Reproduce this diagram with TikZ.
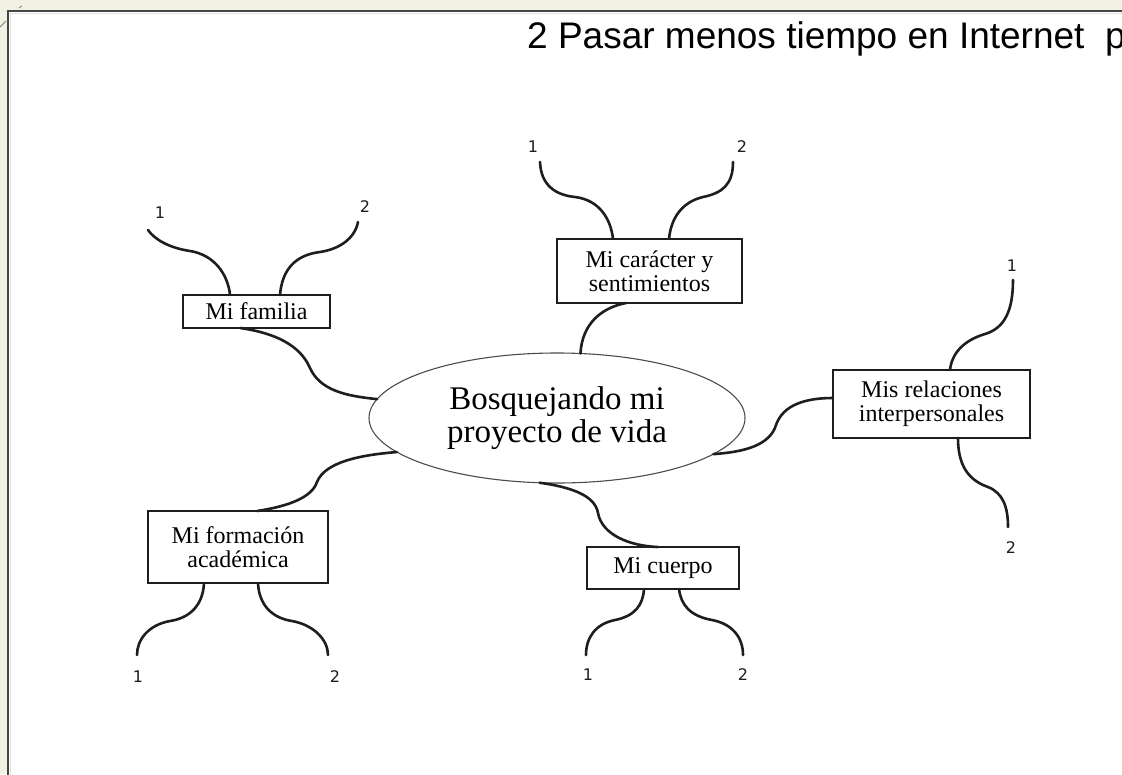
\documentclass[tikz,border=0pt]{standalone}
\usepackage{fontspec}
\setmainfont{Liberation Serif}
\newfontfamily\titlefont{Liberation Sans}
\newfontfamily\numfont{DejaVu Sans}
\usetikzlibrary{shapes.geometric}
\definecolor{beige}{HTML}{F1F2E4}
\definecolor{frame}{HTML}{454545}
\definecolor{ink}{HTML}{1E1E1E}
\begin{document}
\begin{tikzpicture}[x=1pt,y=-1pt,
  box/.style={draw=ink, line width=1.4pt, rectangle, inner sep=0pt, outer sep=0pt, align=center,
    font=\fontsize{24}{24}\selectfont},
  branch/.style={line width=2.6pt, draw=ink, line cap=round},
  num/.style={font=\numfont\fontsize{16}{16}\selectfont, inner sep=0pt, text=ink}
]
\useasboundingbox (0,0) rectangle (1122,774);
\clip (0,0) rectangle (1122,774);
\fill[beige] (0,0) rectangle (1122,774);
\fill[white] (8,11) rectangle (1130,780);
\draw[frame, line width=1.8pt] (8,780) -- (8,11) -- (1130,11);
\draw[black!12, line width=1pt] (10.5,780) -- (10.5,13.5) -- (1130,13.5);
\draw[gray, line width=0.8pt] (0,27) -- (6,21);
\draw[gray, line width=0.8pt] (19,8) -- (22,6);

% title
\node[anchor=base west, font=\titlefont\fontsize{37}{37}\selectfont, inner sep=0pt] (title) at (527,48)
  {2 Pasar menos tiempo en Internet\ \ p};

% centre
\node[ellipse, draw=black!70, line width=1.1pt, minimum width=376pt, minimum height=130pt,
  inner sep=0pt, outer sep=0pt, align=center, font=\fontsize{33}{33}\selectfont] (cen) at (557,418)
  {Bosquejando mi\\proyecto de vida};

% boxes
\node[box, minimum width=147pt, minimum height=33pt] (fam) at (256.5,311.5) {Mi familia};
\node[box, minimum width=185pt, minimum height=64pt] (car) at (649.5,271) {Mi carácter y\\sentimientos};
\node[box, minimum width=197pt, minimum height=68pt] (rel) at (931.5,404) {Mis relaciones\\interpersonales};
\node[box, minimum width=180pt, minimum height=72pt] (form) at (238,547) {Mi formación\\académica};
\node[box, minimum width=152pt, minimum height=42pt] (cu) at (663,568) {Mi cuerpo};

% free ends
\coordinate (f1) at (148,230);  \coordinate (f2) at (358,222);
\coordinate (c1) at (540,162);  \coordinate (c2) at (733,162);
\coordinate (r1) at (1013,280); \coordinate (r2) at (1008,527);
\coordinate (fo1) at (137,655); \coordinate (fo2) at (328,655);
\coordinate (cu1) at (586,655); \coordinate (cu2) at (743,655);

% number labels
\node[num] (lf1) at (160,213) {1};  \node[num] (lf2) at (365,207) {2};
\node[num] (lc1) at (533,147) {1};  \node[num] (lc2) at (742,147) {2};
\node[num] (lr1) at (1012,266) {1}; \node[num] (lr2) at (1011,548) {2};
\node[num] (lo1) at (138,677) {1};  \node[num] (lo2) at (335,677) {2};
\node[num] (lu1) at (588,675) {1};  \node[num] (lu2) at (743,675) {2};

% Mi familia
\draw[branch] ([xshift=-26.5pt]fam.north) .. controls (228,275) and (215,255) .. (190,251)
  .. controls (170,248) and (155,240) .. (f1);
\draw[branch] ([xshift=23.5pt]fam.north) .. controls (282,270) and (295,255) .. (320,252)
  .. controls (340,249) and (355,238) .. (f2);
\draw[branch] ([xshift=-16.5pt]fam.south) .. controls (275,333) and (300,345) .. (310,368)
  .. controls (320,390) and (345,396) .. (cen.174);

% Mi caracter
\draw[branch] ([xshift=-36.5pt]car.north) .. controls (611,220) and (600,200) .. (575,197)
  .. controls (555,195) and (541,185) .. (c1);
\draw[branch] ([xshift=19.5pt]car.north) .. controls (671,218) and (682,202) .. (703,197)
  .. controls (722,193) and (733,185) .. (c2);
\draw[branch] ([xshift=-23.5pt]car.south) .. controls (600,308) and (582,325) .. (cen.70);

% Mis relaciones
\draw[branch] ([xshift=18.5pt]rel.north) .. controls (952,352) and (965,340) .. (985,334)
  .. controls (1005,328) and (1013,310) .. (r1);
\draw[branch] ([xshift=26.5pt]rel.south) .. controls (958,465) and (968,480) .. (988,487)
  .. controls (1003,493) and (1008,507) .. (r2);
\draw[branch] (cen.-13) .. controls (745,452) and (770,445) .. (776,425)
  .. controls (783,405) and (805,398) .. ([yshift=6pt]rel.west);

% Mi formacion
\draw[branch] ([xshift=19pt]form.north) .. controls (290,506) and (312,497) .. (317,482)
  .. controls (325,462) and (360,455) .. (cen.192);
\draw[branch] ([xshift=-34pt]form.south) .. controls (203,605) and (190,618) .. (170,621)
  .. controls (148,625) and (137,640) .. (fo1);
\draw[branch] ([xshift=20pt]form.south) .. controls (259,605) and (272,618) .. (292,621)
  .. controls (314,625) and (328,640) .. (fo2);

% Mi cuerpo
\draw[branch] (cen.-105) .. controls (570,487) and (595,495) .. (598,513)
  .. controls (602,535) and (630,546) .. ([xshift=-5pt]cu.north);
\draw[branch] ([xshift=-19pt]cu.south) .. controls (643,605) and (635,616) .. (615,620)
  .. controls (595,624) and (586,638) .. (cu1);
\draw[branch] ([xshift=16pt]cu.south) .. controls (681,605) and (690,616) .. (712,620)
  .. controls (733,624) and (743,638) .. (cu2);
\end{tikzpicture}
\end{document}
